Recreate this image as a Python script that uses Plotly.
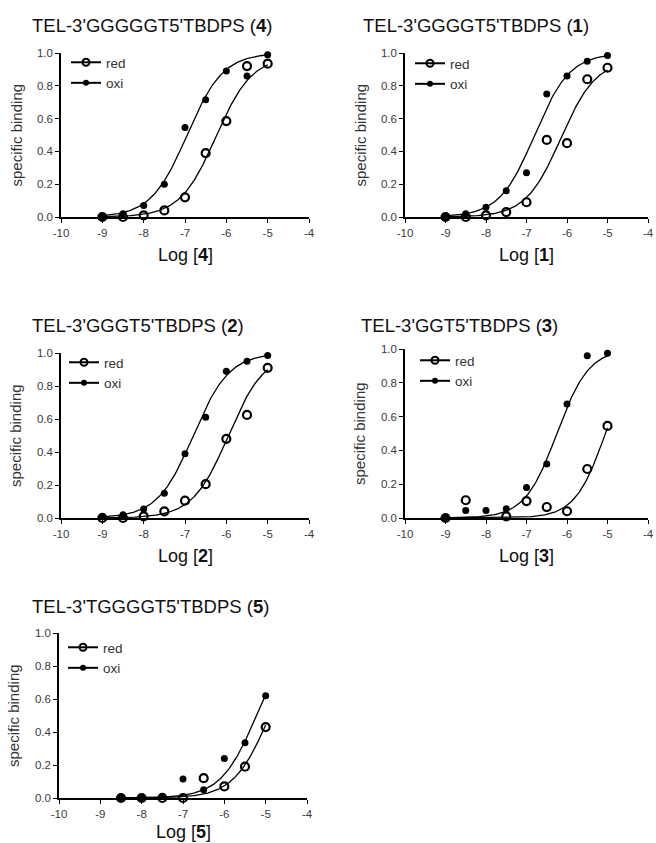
import numpy as np
import plotly.graph_objects as go

# ---------------- data ----------------
log_conc = [-9, -8.5, -8, -7.5, -7, -6.5, -6, -5.5, -5]
log_conc5 = [-8.5, -8, -7.5, -7, -6.5, -6, -5.5, -5]

compound_ids = ["4", "1", "2", "3", "5"]
sequences = ["TEL-3'GGGGGT5'TBDPS", "TEL-3'GGGGT5'TBDPS", "TEL-3'GGGT5'TBDPS",
             "TEL-3'GGT5'TBDPS", "TEL-3'TGGGGT5'TBDPS"]

red_4 = [0.0, 0.0, 0.01, 0.04, 0.12, 0.39, 0.585, 0.92, 0.935]
oxi_4 = [0.0, 0.02, 0.07, 0.20, 0.545, 0.715, 0.89, 0.86, 0.99]

red_1 = [0.0, 0.0, 0.01, 0.03, 0.09, 0.47, 0.45, 0.84, 0.91]
oxi_1 = [0.0, 0.02, 0.06, 0.16, 0.27, 0.75, 0.86, 0.95, 0.985]

red_2 = [0.0, 0.0, 0.01, 0.04, 0.105, 0.205, 0.48, 0.625, 0.91]
oxi_2 = [0.01, 0.02, 0.055, 0.15, 0.39, 0.61, 0.89, 0.95, 0.985]

red_3 = [0.0, 0.105, -0.005, 0.01, 0.10, 0.065, 0.04, 0.29, 0.545]
oxi_3 = [0.0, 0.045, 0.045, 0.055, 0.18, 0.32, 0.675, 0.96, 0.975]

red_5 = [0.0, 0.0, 0.0, 0.0, 0.12, 0.07, 0.19, 0.43]
oxi_5 = [0.0, 0.0, 0.01, 0.115, 0.05, 0.24, 0.335, 0.62]

# sigmoidal fit parameters: (logEC50, top, hill slope)
fit_red = [(-6.25, 0.98, 1.0), (-6.15, 0.96, 1.0), (-5.95, 1.0, 1.0), (-5.05, 1.0, 1.15), (-4.9, 1.0, 1.0)]
fit_oxi = [(-6.95, 1.0, 1.0), (-6.8, 1.0, 1.0), (-6.8, 1.0, 1.0), (-6.25, 1.0, 1.1), (-5.22, 1.0, 1.0)]

x_ticks = [-10, -9, -8, -7, -6, -5, -4]
x_tick_labels = ["-10", "-9", "-8", "-7", "-6", "-5", "-4"]
y_ticks = [0.0, 0.2, 0.4, 0.6, 0.8, 1.0]
y_tick_labels = ["0.0", "0.2", "0.4", "0.6", "0.8", "1.0"]

series_names = ["red", "oxi"]

panel_x = [log_conc, log_conc, log_conc, log_conc, log_conc5]
panel_red = [red_4, red_1, red_2, red_3, red_5]
panel_oxi = [oxi_4, oxi_1, oxi_2, oxi_3, oxi_5]

# ---------------- layout geometry (pixels) ----------------
W, H = 656, 843
# (left, right, top, bottom) of each plot area
boxes = [(61, 309, 53, 217), (405, 648, 53, 217), (61, 309, 353, 518),
         (405, 648, 349, 518), (59, 307, 633, 798)]
title_pos = [(30, 25), (361, 25), (30, 325), (359, 325), (30, 606)]
legend_pos = [(66, 47), (410, 48), (64, 347), (415, 345), (63, 632)]
xlabel_shift = [-38, -38, -38, -38, -34]

FONT = "Liberation Sans, Arial, sans-serif"

def hill(x, ec50, top, slope):
    x = np.asarray(x, dtype=float)
    return top / (1.0 + 10 ** ((ec50 - x) * slope))

fig = go.Figure()
layout = {}
annotations = []

for i in range(5):
    n = i + 1
    xa = "x" if n == 1 else f"x{n}"
    ya = "y" if n == 1 else f"y{n}"
    lg = "legend" if n == 1 else f"legend{n}"
    xs = panel_x[i]
    xc = np.linspace(xs[0], xs[-1], 200)

    for name, vals, fit, sym, msize, mlw, lsize, llw in [
        (series_names[0], panel_red[i], fit_red[i], "circle-open", 8, 2.2, 7, 2),
        (series_names[1], panel_oxi[i], fit_oxi[i], "circle", 7, 0, 6, 0),
    ]:
        fig.add_trace(go.Scatter(
            x=xc, y=hill(xc, *fit), mode="lines",
            line=dict(color="black", width=1.3),
            xaxis=xa, yaxis=ya, showlegend=False, hoverinfo="skip", cliponaxis=False))
        fig.add_trace(go.Scatter(
            x=xs, y=vals, mode="markers",
            marker=dict(symbol=sym, size=msize, color="black",
                        line=dict(color="black", width=mlw)),
            xaxis=xa, yaxis=ya, showlegend=False, cliponaxis=False))
        fig.add_trace(go.Scatter(
            x=[None], y=[None], mode="lines+markers", name=name,
            marker=dict(symbol=sym, size=lsize, color="black",
                        line=dict(color="black", width=llw)),
            line=dict(color="black", width=2),
            xaxis=xa, yaxis=ya, legend=lg, showlegend=True))

    l, r, t, b = boxes[i]
    axis_common = dict(showgrid=False, zeroline=False, showline=True, automargin=False,
                       linecolor="black", linewidth=1.5, ticks="outside",
                       ticklen=4, tickwidth=1.3, tickcolor="black",
                       ticklabeloverflow="allow",
                       tickfont=dict(family=FONT, size=11.5, color="#3a3a3a"))
    layout["xaxis" if n == 1 else f"xaxis{n}"] = dict(
        domain=[l / W, r / W], anchor=ya, range=[-10, -4],
        tickvals=x_ticks, ticktext=x_tick_labels, **axis_common)
    layout["yaxis" if n == 1 else f"yaxis{n}"] = dict(
        domain=[1 - b / H, 1 - t / H], anchor=xa, range=[0, 1],
        tickvals=y_ticks, ticktext=y_tick_labels, **axis_common)

    lx, ly = legend_pos[i]
    layout[lg] = dict(x=lx / W, y=1 - ly / H, xanchor="left", yanchor="top",
                      xref="paper", yref="paper", bgcolor="rgba(0,0,0,0)",
                      borderwidth=0, itemwidth=30, tracegroupgap=0,
                      font=dict(family=FONT, size=13.5, color="#333333"))

    tx, ty = title_pos[i]
    annotations.append(dict(
        text=f"{sequences[i]} (<b>{compound_ids[i]}</b>)", xref="paper", yref="paper",
        x=tx / W, y=1 - ty / H, xanchor="left", yanchor="middle", showarrow=False,
        font=dict(family=FONT, size=18.5, color="#111111")))
    annotations.append(dict(
        text=f"Log [<b>{compound_ids[i]}</b>]", xref=f"{xa} domain", yref=f"{ya} domain",
        x=0.5, y=0, xanchor="center", yanchor="middle", yshift=xlabel_shift[i],
        showarrow=False, font=dict(family=FONT, size=18, color="#111111")))
    annotations.append(dict(
        text="specific binding", xref=f"{xa} domain", yref=f"{ya} domain",
        x=0, y=0.5, xanchor="right", yanchor="middle", xshift=-35, textangle=-90,
        showarrow=False, font=dict(family=FONT, size=15, color="#333333")))

fig.update_layout(
    width=W, height=H, margin=dict(l=0, r=0, t=0, b=0, autoexpand=False),
    paper_bgcolor="white", plot_bgcolor="white",
    annotations=annotations, **layout)

fig.write_html("out.html")
